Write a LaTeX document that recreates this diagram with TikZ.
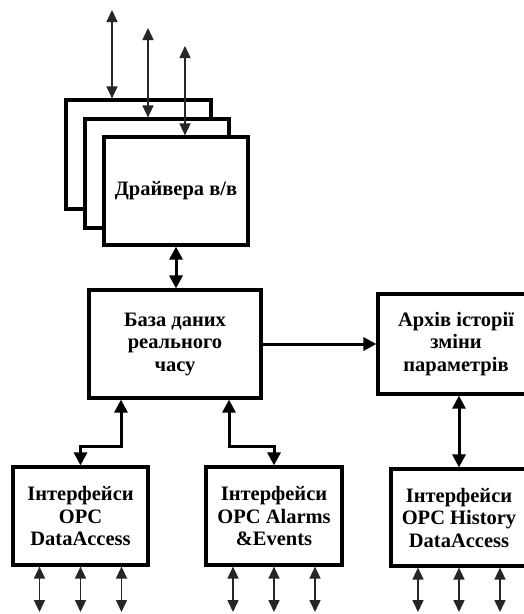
\documentclass[tikz,border=0pt]{standalone}
\usepackage{fontspec}
\setmainfont{Liberation Serif}
\usetikzlibrary{arrows.meta,calc}
\begin{document}
\begin{tikzpicture}[x=1pt,y=-1pt,
  box/.style={draw,line width=3.2pt,fill=white,inner sep=0pt,align=center,
    font=\fontsize{20.5}{22.5}\selectfont\bfseries},
  thinarrow/.style={line width=1.5pt,draw=black!85,
    {Triangle[length=12pt,width=11pt]}-{Triangle[length=12pt,width=11pt]}},
  thickarrow/.style={line width=3pt,
    {Triangle[length=13pt,width=13pt]}-{Triangle[length=13pt,width=13pt]}},
  onearrow/.style={line width=3pt,-{Triangle[length=13pt,width=13pt]}}]
\clip (0,0) rectangle (524,614);
\fill[white] (0,0) rectangle (524,614);
% driver stack
\node[box,minimum width=145pt,minimum height=109pt] (drvc) at (138.5,154.5) {};
\node[box,minimum width=144pt,minimum height=109pt] (drvb) at (157,173.5) {};
\node[box,minimum width=144pt,minimum height=108pt] (drva) at (176,191) {Драйвера в/в};
% main boxes
\node[box,minimum width=172pt,minimum height=108pt] (db) at (175,344) {База даних\\реального\\часу};
\node[box,minimum width=156pt,minimum height=100pt] (arch) at (456,344) {Архів історії\\зміни\\параметрів};
\node[box,minimum width=135pt,minimum height=98pt] (b1) at (80.5,516) {Інтерфейси\\OPC\\DataAccess};
\node[box,minimum width=136pt,minimum height=98pt] (b2) at (274,516) {Інтерфейси\\OPC Alarms\\\&Events};
\node[box,minimum width=136pt,minimum height=97pt] (b3) at (459,517.5) {Інтерфейси\\OPC History\\DataAccess};
% top arrows
\coordinate (t1) at (112,10);
\coordinate (t2) at (148,28);
\coordinate (t3) at (185,46);
\draw[thinarrow] (t1) -- (t1 |- drvc.north);
\draw[thinarrow] (t2) -- (t2 |- drvb.north);
\draw[thinarrow] (t3) -- (t3 |- drva.north);
% drivers <-> db
\draw[thickarrow] (drva.south) -- (drva.south |- db.north);
% db -> archive
\draw[onearrow] (db.east) -- (arch.west);
% db <-> interfaces
\coordinate (j1) at (121,446);
\coordinate (j2) at (229,446);
\draw[thickarrow] (db.south -| j1) -- (j1) -| (b1.north);
\draw[thickarrow] (db.south -| j2) -- (j2) -| (b2.north);
% archive <-> history
\draw[thickarrow] (b3.north |- arch.south) -- (b3.north);
% bottom arrows
\coordinate (bot) at (0,612);
\foreach \b in {b1,b2,b3}{
  \foreach \dx in {-41,0,41}{
    \draw[thinarrow] ([xshift=\dx pt]\b.south) -- ([xshift=\dx pt]\b.south |- bot);
  }
}
\end{tikzpicture}
\end{document}
